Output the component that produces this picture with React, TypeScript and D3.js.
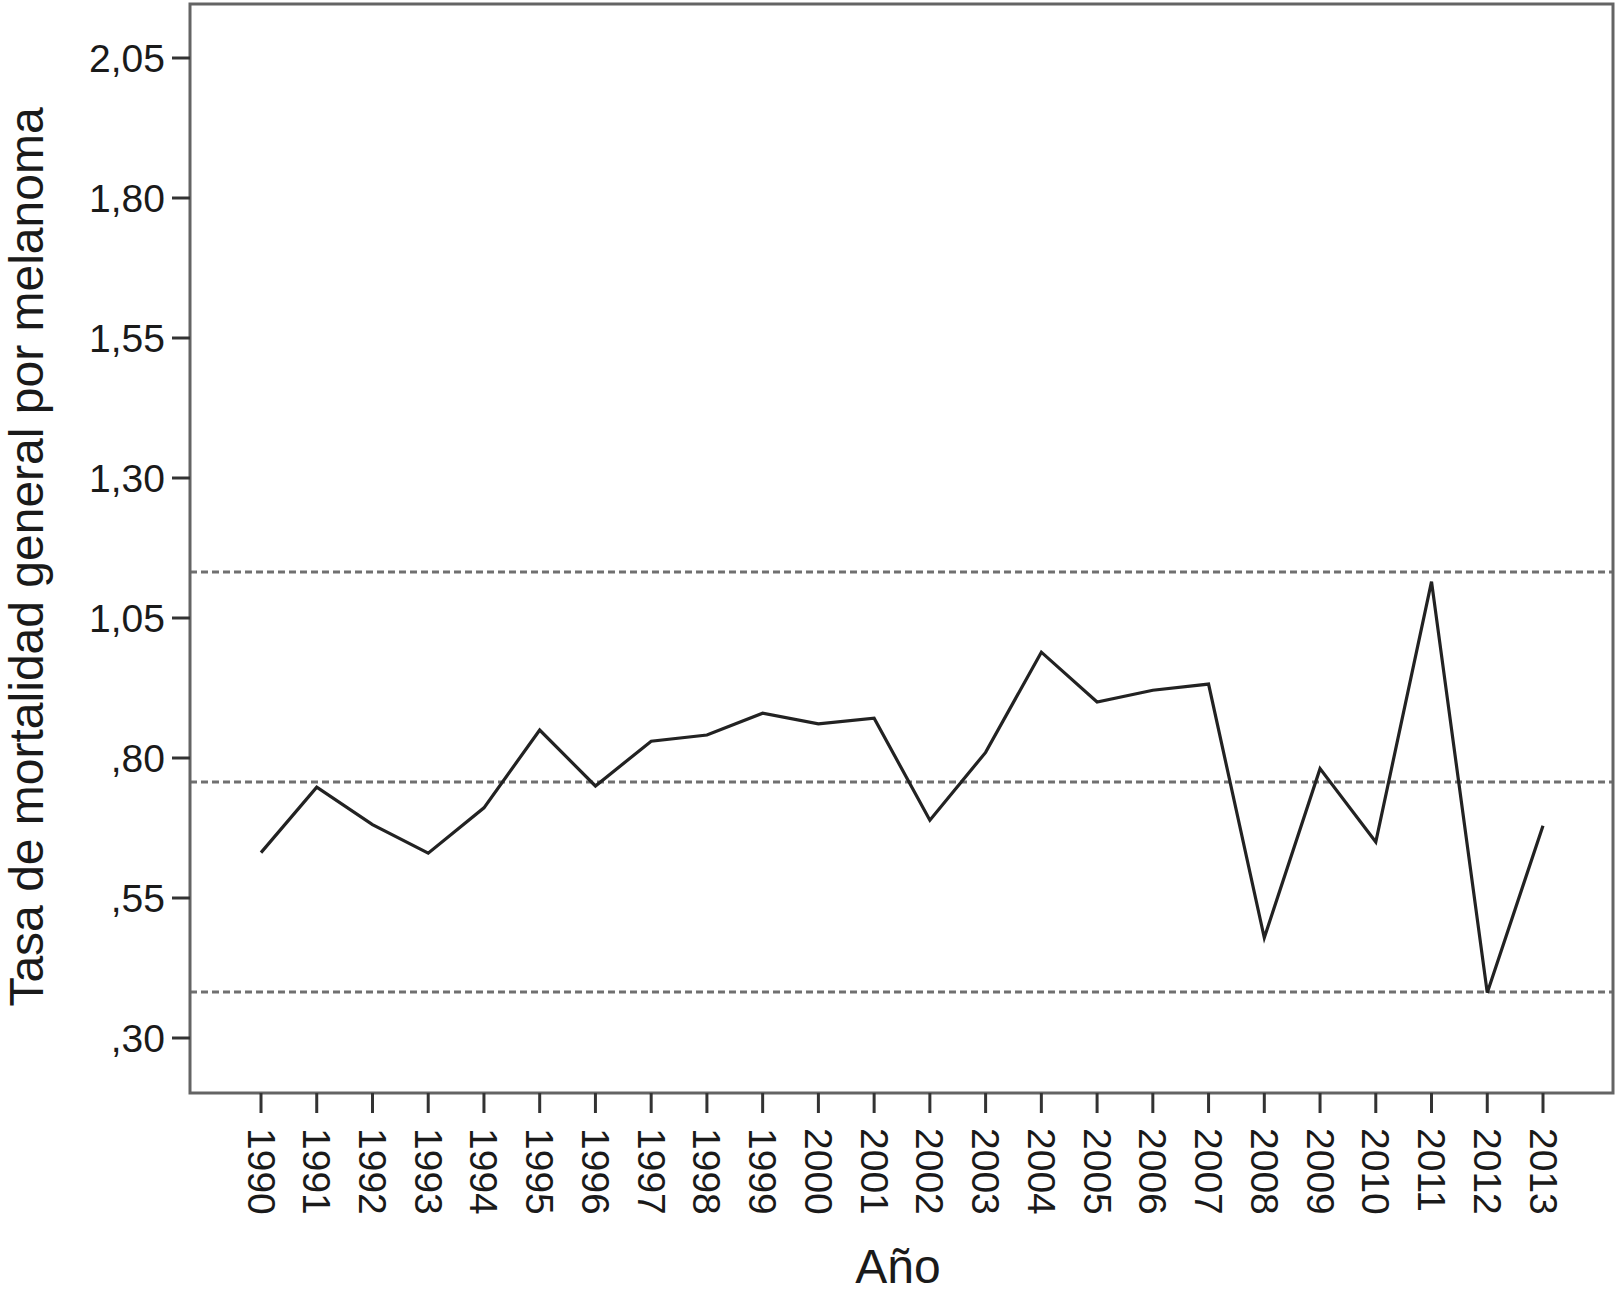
import React from "react";
import * as d3 from "d3";

const years = [1990,1991,1992,1993,1994,1995,1996,1997,1998,1999,2000,2001,2002,2003,2004,2005,2006,2007,2008,2009,2010,2011,2012,2013];
const rates = [0.631,0.748,0.681,0.630,0.711,0.850,0.750,0.830,0.841,0.880,0.861,0.871,0.689,0.810,0.989,0.900,0.921,0.932,0.479,0.781,0.650,1.115,0.381,0.679];
const yTicks = [0.30,0.55,0.80,1.05,1.30,1.55,1.80,2.05];
const controlLines = [1.132, 0.757, 0.382];
const yTitle = "Tasa de mortalidad general por melanoma";
const xTitle = "Año";

const W = 1619, H = 1294;
const FONT = "'Liberation Sans', Arial, Helvetica, sans-serif";

const fmt = (v: number) => {
  let s = d3.format(".2f")(v).replace(".", ",");
  if (s.startsWith("0")) s = s.slice(1);
  return s;
};

export default function App() {
  const y = d3.scaleLinear().domain([0.30, 2.05]).range([1038, 58]);
  const x = d3.scaleLinear().domain([1990, 2013]).range([261, 1543]);
  const left = 190, right = 1613, top = 4, bottom = 1093;
  const line = d3.line<number>().x((_, i) => x(years[i])).y((d) => y(d));

  return (
    <div style={{ position: "absolute", left: 0, top: 0 }}>
      <svg width={W} height={H} style={{ display: "block", background: "#fff" }}>
        <rect x={0} y={0} width={W} height={H} fill="#fff" />
        {controlLines.map((v, i) => (
          <line key={i} x1={left} x2={right} y1={y(v)} y2={y(v)} stroke="#707070" strokeWidth={3} strokeDasharray="7,4" />
        ))}
        <path d={line(rates) || ""} fill="none" stroke="#222" strokeWidth={3.2} strokeLinejoin="miter" />
        <rect x={left} y={top} width={right - left} height={bottom - top} fill="none" stroke="#646464" strokeWidth={3} />
        {yTicks.map((t) => (
          <g key={t}>
            <line x1={172} x2={left} y1={y(t)} y2={y(t)} stroke="#333" strokeWidth={3} />
            <text x={165} y={y(t)} textAnchor="end" dominantBaseline="central" fontFamily={FONT} fontSize={39} fill="#1a1a1a">{fmt(t)}</text>
          </g>
        ))}
        {years.map((yr) => (
          <g key={yr}>
            <line x1={x(yr)} x2={x(yr)} y1={bottom} y2={1113} stroke="#333" strokeWidth={3} />
            <text transform={`translate(${x(yr)},1128) rotate(90)`} textAnchor="start" dominantBaseline="central" fontFamily={FONT} fontSize={39} fill="#1a1a1a">{yr}</text>
          </g>
        ))}
        <text x={898} y={1283} textAnchor="middle" fontFamily={FONT} fontSize={48} fill="#1a1a1a">{xTitle}</text>
        <text transform={`translate(43,557) rotate(-90)`} textAnchor="middle" fontFamily={FONT} fontSize={48} fill="#1a1a1a">{yTitle}</text>
      </svg>
    </div>
  );
}
